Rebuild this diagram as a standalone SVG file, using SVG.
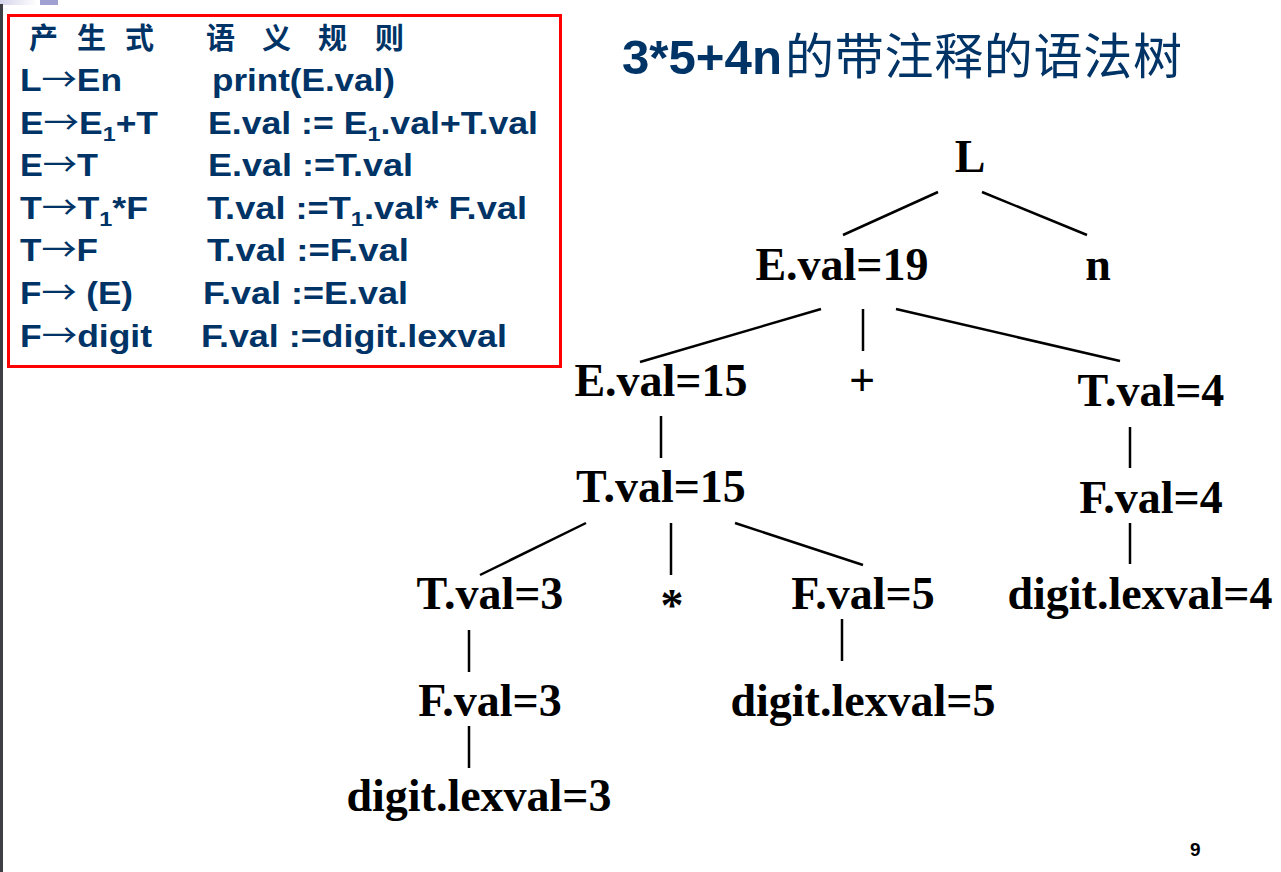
<svg xmlns="http://www.w3.org/2000/svg" width="1281" height="872" viewBox="0 0 1281 872">
  <defs>
    <linearGradient id="topBar" x1="0" y1="0" x2="1" y2="0">
      <stop offset="0" stop-color="#d4d4ec"/>
      <stop offset="1" stop-color="#ffffff"/>
    </linearGradient>
    <style>
      .rule { font-family: "Liberation Sans", Arial, sans-serif; font-weight: bold; font-size: 32px; fill: #003366; }
      .arr { font-family: "Noto Sans CJK SC", sans-serif; font-weight: normal; }
      .head { font-family: "Noto Sans CJK SC", "Liberation Sans", sans-serif; font-weight: bold; font-size: 29px; fill: #003366; }
      .title-a { font-family: "Liberation Sans", Arial, sans-serif; font-weight: bold; font-size: 48px; fill: #003366; }
      .title-b { font-family: "Noto Sans CJK SC", sans-serif; font-weight: normal; font-size: 49px; fill: #003366; }
      .node { font-family: "Liberation Serif", "Times New Roman", serif; font-weight: bold; font-size: 46px; fill: #000; text-anchor: middle; }
      .op { font-family: "Liberation Serif", "Times New Roman", serif; font-weight: bold; font-size: 46px; fill: #000; text-anchor: middle; }
      .edges line { stroke: #000; stroke-width: 2.5; stroke-linecap: butt; }
      .pageno { font-family: "Liberation Sans", Arial, sans-serif; font-weight: bold; font-size: 19px; fill: #000; }
    </style>
  </defs>

  <!-- page background and slide frame details -->
  <rect x="0" y="0" width="1281" height="872" fill="#ffffff"/>
  <rect x="0" y="0" width="37" height="5" fill="url(#topBar)"/>
  <rect x="40" y="0" width="18" height="5" fill="#a0a0d2"/>
  <rect x="0" y="4" width="3" height="868" fill="#3c4045"/>

  <!-- production / semantic rule table -->
  <g id="rules-table">
    <rect x="8.5" y="15.5" width="552" height="351" fill="none" stroke="#ff0000" stroke-width="3"/>
    <text class="head" x="29 77 125" y="49">产生式</text>
    <text class="head" x="206 262 318 375" y="49">语义规则</text>

    <text class="rule" x="20" y="91" textLength="102" lengthAdjust="spacingAndGlyphs">L<tspan class="arr">→</tspan>En</text>
    <text class="rule" x="212" y="91" textLength="183" lengthAdjust="spacingAndGlyphs">print(E.val)</text>

    <text class="rule" x="20" y="134" textLength="138" lengthAdjust="spacingAndGlyphs">E<tspan class="arr">→</tspan>E<tspan font-size="21" dy="7">1</tspan><tspan dy="-7">+T</tspan></text>
    <text class="rule" x="208" y="134" textLength="330" lengthAdjust="spacingAndGlyphs">E.val := E<tspan font-size="21" dy="7">1</tspan><tspan dy="-7">.val+T.val</tspan></text>

    <text class="rule" x="20" y="176" textLength="78" lengthAdjust="spacingAndGlyphs">E<tspan class="arr">→</tspan>T</text>
    <text class="rule" x="208" y="176" textLength="205" lengthAdjust="spacingAndGlyphs">E.val :=T.val</text>

    <text class="rule" x="20" y="219" textLength="128" lengthAdjust="spacingAndGlyphs">T<tspan class="arr">→</tspan>T<tspan font-size="21" dy="7">1</tspan><tspan dy="-7">*F</tspan></text>
    <text class="rule" x="207" y="219" textLength="320" lengthAdjust="spacingAndGlyphs">T.val :=T<tspan font-size="21" dy="7">1</tspan><tspan dy="-7">.val* F.val</tspan></text>

    <text class="rule" x="20" y="261" textLength="78" lengthAdjust="spacingAndGlyphs">T<tspan class="arr">→</tspan>F</text>
    <text class="rule" x="207" y="261" textLength="202" lengthAdjust="spacingAndGlyphs">T.val :=F.val</text>

    <text class="rule" x="20" y="304" textLength="113" lengthAdjust="spacingAndGlyphs">F<tspan class="arr">→</tspan> (E)</text>
    <text class="rule" x="203" y="304" textLength="205" lengthAdjust="spacingAndGlyphs">F.val :=E.val</text>

    <text class="rule" x="20" y="347" textLength="132" lengthAdjust="spacingAndGlyphs">F<tspan class="arr">→</tspan>digit</text>
    <text class="rule" x="201" y="347" textLength="306" lengthAdjust="spacingAndGlyphs">F.val :=digit.lexval</text>
  </g>

  <!-- heading -->
  <g id="title">
    <text class="title-a" x="622" y="74" textLength="160" lengthAdjust="spacingAndGlyphs">3*5+4n</text>
    <text class="title-b" x="785" y="74" textLength="397" lengthAdjust="spacing">的带注释的语法树</text>
  </g>

  <!-- tree edges -->
  <g class="edges" id="edges">
    <line x1="938" y1="192" x2="843" y2="235"/>
    <line x1="982" y1="192" x2="1087" y2="235"/>
    <line x1="821" y1="309" x2="640" y2="362"/>
    <line x1="863" y1="309" x2="863" y2="351"/>
    <line x1="896" y1="309" x2="1120" y2="361"/>
    <line x1="661" y1="416" x2="661" y2="458"/>
    <line x1="586" y1="523" x2="480" y2="575"/>
    <line x1="671" y1="523" x2="671" y2="575"/>
    <line x1="735" y1="523" x2="863" y2="565"/>
    <line x1="469" y1="630" x2="469" y2="672"/>
    <line x1="469" y1="726" x2="469" y2="768"/>
    <line x1="842" y1="619" x2="842" y2="661"/>
    <line x1="1130" y1="427" x2="1130" y2="468"/>
    <line x1="1130" y1="523" x2="1130" y2="564"/>
  </g>

  <!-- tree nodes -->
  <g id="n-L"><text class="node" x="970" y="172">L</text></g>
  <g id="n-E19"><text class="node" x="842" y="280">E.val=19</text></g>
  <g id="n-n"><text class="node" x="1098" y="280">n</text></g>
  <g id="n-E15"><text class="node" x="661" y="396">E.val=15</text></g>
  <g id="n-plus"><text class="op" x="862" y="396">+</text></g>
  <g id="n-T4"><text class="node" x="1151" y="406">T.val=4</text></g>
  <g id="n-T15"><text class="node" x="661" y="502">T.val=15</text></g>
  <g id="n-F4"><text class="node" x="1151" y="513">F.val=4</text></g>
  <g id="n-T3"><text class="node" x="490" y="609">T.val=3</text></g>
  <g id="n-star"><text class="op" x="672" y="621">*</text></g>
  <g id="n-F5"><text class="node" x="863" y="609">F.val=5</text></g>
  <g id="n-d4"><text class="node" x="1140" y="609">digit.lexval=4</text></g>
  <g id="n-F3"><text class="node" x="490" y="716">F.val=3</text></g>
  <g id="n-d5"><text class="node" x="863" y="716">digit.lexval=5</text></g>
  <g id="n-d3"><text class="node" x="479" y="811">digit.lexval=3</text></g>

  <text class="pageno" x="1190" y="856">9</text>
</svg>
